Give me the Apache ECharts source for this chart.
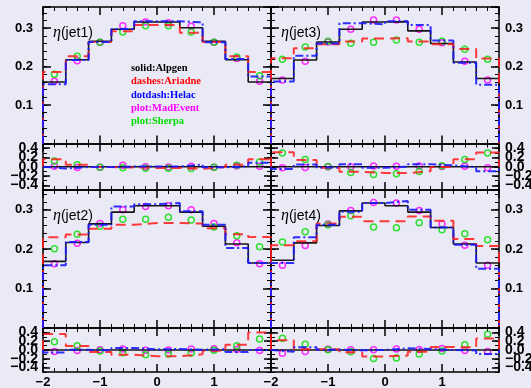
<!DOCTYPE html>
<html>
<head>
<meta charset="utf-8">
<script src="https://cdn.jsdelivr.net/npm/echarts@6/dist/echarts.min.js"></script>
<style>
  html, body { margin: 0; padding: 0; background: #eaeaf6; }
  #chart { width: 531px; height: 388px; }
</style>
</head>
<body>
<div id="chart"></div>
<script>
// Pseudorapidity bin edges shared by all four jets
const etaEdges = [-2, -1.6, -1.2, -0.8, -0.4, 0, 0.4, 0.8, 1.2, 1.6, 2];

// eta(jet1)
const jet1Alpgen   = [0.160, 0.218, 0.266, 0.297, 0.316, 0.316, 0.301, 0.266, 0.218, 0.160];
const jet1Ariadne  = [0.186, 0.227, 0.264, 0.292, 0.308, 0.308, 0.288, 0.264, 0.227, 0.186];
const jet1Helac    = [0.154, 0.217, 0.264, 0.298, 0.318, 0.318, 0.315, 0.263, 0.220, 0.174];
const jet1MadEvent = [0.162, 0.215, 0.263, 0.306, 0.316, 0.314, 0.305, 0.263, 0.221, 0.162];
const jet1Sherpa   = [0.180, 0.227, 0.263, 0.290, 0.306, 0.306, 0.290, 0.263, 0.225, 0.176];

// eta(jet2)
const jet2Alpgen   = [0.169, 0.217, 0.264, 0.294, 0.310, 0.310, 0.294, 0.258, 0.213, 0.165];
const jet2Ariadne  = [0.230, 0.237, 0.252, 0.262, 0.266, 0.266, 0.265, 0.253, 0.238, 0.231];
const jet2Helac    = [0.159, 0.218, 0.262, 0.308, 0.314, 0.317, 0.296, 0.262, 0.203, 0.165];
const jet2MadEvent = [0.163, 0.215, 0.265, 0.300, 0.308, 0.310, 0.300, 0.265, 0.216, 0.163];
const jet2Sherpa   = [0.201, 0.238, 0.258, 0.276, 0.276, 0.281, 0.274, 0.256, 0.234, 0.206];

// eta(jet3)
const jet3Alpgen   = [0.169, 0.217, 0.264, 0.297, 0.316, 0.317, 0.293, 0.260, 0.212, 0.169];
const jet3Ariadne  = [0.222, 0.248, 0.258, 0.265, 0.273, 0.274, 0.265, 0.258, 0.246, 0.221];
const jet3Helac    = [0.161, 0.228, 0.260, 0.313, 0.310, 0.318, 0.308, 0.268, 0.210, 0.153];
const jet3MadEvent = [0.165, 0.214, 0.264, 0.297, 0.321, 0.321, 0.297, 0.262, 0.214, 0.165];
const jet3Sherpa   = [0.219, 0.251, 0.266, 0.261, 0.263, 0.269, 0.263, 0.266, 0.245, 0.219];

// eta(jet4)
const jet4Alpgen   = [0.172, 0.216, 0.260, 0.297, 0.317, 0.310, 0.294, 0.255, 0.213, 0.165];
const jet4Ariadne  = [0.210, 0.220, 0.265, 0.282, 0.271, 0.271, 0.283, 0.272, 0.226, 0.208];
const jet4Helac    = [0.165, 0.230, 0.262, 0.295, 0.317, 0.322, 0.300, 0.255, 0.211, 0.150];
const jet4MadEvent = [0.159, 0.209, 0.264, 0.298, 0.318, 0.317, 0.298, 0.264, 0.210, 0.159];
const jet4Sherpa   = [0.218, 0.244, 0.262, 0.285, 0.256, 0.254, 0.267, 0.249, 0.239, 0.224];

// Ratio-panel tick values (labels are split over two axes so none get dropped)
const ratioTicks = [-0.4, -0.2, 0, 0.2, 0.4];
const ratioLabelsA = [-0.4, 0, 0.4];
const ratioLabelsB = [-0.2, 0.2];

const legendLines = [
  { text: 'solid:Alpgen',   color: '#000000' },
  { text: 'dashes:Ariadne', color: '#ff0000' },
  { text: 'dotdash:Helac',  color: '#0000ff' },
  { text: 'plot:MadEvent',  color: '#ff00ff' },
  { text: 'plot:Sherpa',    color: '#00dd00' }
];

const panels = [
  { name: 'jet1', col: 0, row: 0, alp: jet1Alpgen, ari: jet1Ariadne, hel: jet1Helac, mad: jet1MadEvent, she: jet1Sherpa },
  { name: 'jet3', col: 1, row: 0, alp: jet3Alpgen, ari: jet3Ariadne, hel: jet3Helac, mad: jet3MadEvent, she: jet3Sherpa },
  { name: 'jet2', col: 0, row: 1, alp: jet2Alpgen, ari: jet2Ariadne, hel: jet2Helac, mad: jet2MadEvent, she: jet2Sherpa },
  { name: 'jet4', col: 1, row: 1, alp: jet4Alpgen, ari: jet4Ariadne, hel: jet4Helac, mad: jet4MadEvent, she: jet4Sherpa }
];

// Layout
const COL_LEFT = [43, 271];
const PANEL_W = 228;
const ROWS = [
  { mainTop: 7,   mainH: 136.5, ratTop: 143.5, ratH: 46.5, yMax: 0.355 },
  { mainTop: 190, mainH: 138,   ratTop: 328,   ratH: 44,   yMax: 0.35 }
];

const INK = '#000';
const tickFont = { color: '#000', fontFamily: 'Liberation Sans, Arial, sans-serif', fontWeight: 'bold', fontSize: 13 };
const ratioFont = { color: '#000', fontFamily: 'Liberation Sans, Arial, sans-serif', fontWeight: 'bold', fontSize: 14 };

function signed(v, digits) {
  const s = Math.abs(v).toFixed(digits);
  return (v < -1e-9 ? '\u2212' : '') + s;
}

const grids = [], xAxes = [], yAxes = [], series = [], graphics = [];

function addGrid(left, top, height) {
  grids.push({ left: left, top: top, width: PANEL_W, height: height, containLabel: false, outerBoundsMode: 'none' });
  return grids.length - 1;
}

function addXAxes(gi, withLabels) {
  const first = xAxes.length;
  ['bottom', 'top'].forEach(function (pos) {
    xAxes.push({
      type: 'value', gridIndex: gi, position: pos, min: -2, max: 2, interval: 1,
      axisLine: { show: true, onZero: false, lineStyle: { color: INK, width: 1.5 } },
      axisTick: { show: true, inside: true, length: 8, lineStyle: { color: INK, width: 1.5 } },
      minorTick: { show: true, splitNumber: 5, length: 4, lineStyle: { color: INK, width: 1 } },
      axisLabel: Object.assign({
        show: withLabels && pos === 'bottom', margin: 4,
        showMinLabel: true, hideOverlap: false,
        formatter: function (v) { return v >= 2 ? '' : signed(v, 0); }
      }, tickFont),
      splitLine: { show: false }, minorSplitLine: { show: false }
    });
  });
  return first;
}

// Main panel: major ticks every 0.1 with labels, minor ticks every 0.02
function addMainY(gi, pos, yMax, withLabels) {
  const major = yAxes.length;
  yAxes.push({
    type: 'value', gridIndex: gi, position: pos, min: 0, max: yMax, interval: 0.1,
    axisLine: { show: true, onZero: false, lineStyle: { color: INK, width: 1.5 } },
    axisTick: { show: true, inside: true, length: 8, lineStyle: { color: INK, width: 1.5 } },
    axisLabel: Object.assign({
      show: withLabels, margin: pos === 'left' ? 10 : 6, hideOverlap: false,
      formatter: function (v) { return (v > 0.05 && v < 0.34) ? v.toFixed(1) : ''; }
    }, tickFont),
    splitLine: { show: false }
  });
  yAxes.push({
    type: 'value', gridIndex: gi, position: pos, min: 0, max: yMax, interval: 0.02,
    axisLine: { show: false, onZero: false },
    axisTick: { show: true, inside: true, length: 4, lineStyle: { color: INK, width: 1 } },
    axisLabel: { show: false }, splitLine: { show: false }
  });
  return major;
}

// Ratio panel: major ticks at 0.2 steps, minor ticks every 0.1
function addRatioY(gi, pos, withLabels) {
  const major = yAxes.length;
  const margin = pos === 'left' ? 5 : 6;
  const fmt = function (v) { return signed(v, 1); };
  yAxes.push({
    type: 'value', gridIndex: gi, position: pos, min: -0.5, max: 0.5,
    axisLine: { show: true, onZero: false, lineStyle: { color: INK, width: 1.5 } },
    axisTick: { show: true, inside: true, length: 7, customValues: ratioTicks, lineStyle: { color: INK, width: 1.5 } },
    axisLabel: Object.assign({
      show: withLabels, margin: margin, customValues: ratioLabelsA,
      showMinLabel: true, showMaxLabel: true, hideOverlap: false, formatter: fmt
    }, ratioFont),
    splitLine: { show: false }
  });
  yAxes.push({
    type: 'value', gridIndex: gi, position: pos, min: -0.5, max: 0.5, interval: 0.1,
    axisLine: { show: false, onZero: false },
    axisTick: { show: true, inside: true, length: 4, lineStyle: { color: INK, width: 1 } },
    axisLabel: { show: false }, splitLine: { show: false }
  });
  if (withLabels) {
    yAxes.push({
      type: 'value', gridIndex: gi, position: pos, min: -0.5, max: 0.5,
      axisLine: { show: false, onZero: false },
      axisTick: { show: false },
      axisLabel: Object.assign({
        show: true, margin: margin, customValues: ratioLabelsB,
        showMinLabel: true, showMaxLabel: true, hideOverlap: false, formatter: fmt
      }, ratioFont),
      splitLine: { show: false }
    });
  }
  return major;
}

// Histogram outline as a stepped path rising from zero at the first edge
function stepPath(vals) {
  const last = etaEdges.length - 1;
  const pts = [[etaEdges[0], 0]];
  vals.forEach(function (v, i) { pts.push([etaEdges[i], v]); });
  pts.push([etaEdges[last], vals[vals.length - 1]]);
  pts.push([etaEdges[last], 0]);
  return pts;
}
function centers() {
  return etaEdges.slice(0, -1).map(function (e, i) { return (e + etaEdges[i + 1]) / 2; });
}
function ratioTo(vals, ref) {
  return vals.map(function (v, i) { return v / ref[i] - 1; });
}

const STYLES = {
  alp: { color: '#000000', width: 1.6, type: 'solid', opacity: 0.9 },
  ari: { color: '#ff1a1a', width: 2, type: [10, 6], opacity: 0.85 },
  hel: { color: '#1a1aff', width: 2, type: [8, 3, 2, 3], opacity: 0.9 }
};

function addLine(xi, yi, data, key) {
  const s = STYLES[key];
  series.push({
    type: 'line', xAxisIndex: xi, yAxisIndex: yi, data: data, step: 'end',
    showSymbol: false, symbol: 'none', silent: true, animation: false,
    lineStyle: { color: s.color, width: s.width, type: s.type, opacity: s.opacity }
  });
}
function addMarkers(xi, yi, vals, color) {
  const cx = centers();
  series.push({
    type: 'scatter', xAxisIndex: xi, yAxisIndex: yi, animation: false, silent: true,
    data: vals.map(function (v, i) { return [cx[i], v]; }),
    symbol: 'circle', symbolSize: 6,
    itemStyle: { color: 'rgba(0,0,0,0)', borderColor: color, borderWidth: 1.5 }
  });
}

panels.forEach(function (p) {
  const row = ROWS[p.row];
  const left = COL_LEFT[p.col];
  const isLeft = p.col === 0;

  // upper panel: distributions
  const gMain = addGrid(left, row.mainTop, row.mainH);
  const xm = addXAxes(gMain, false);
  const ym = addMainY(gMain, 'left', row.yMax, isLeft);
  addMainY(gMain, 'right', row.yMax, !isLeft);
  addLine(xm, ym, stepPath(p.alp), 'alp');
  addLine(xm, ym, stepPath(p.ari), 'ari');
  addLine(xm, ym, stepPath(p.hel), 'hel');
  addMarkers(xm, ym, p.mad, '#ff00ff');
  addMarkers(xm, ym, p.she, '#00dd00');

  // lower panel: relative difference to Alpgen
  const gRat = addGrid(left, row.ratTop, row.ratH);
  const xr = addXAxes(gRat, p.row === 1);
  const yr = addRatioY(gRat, 'left', isLeft);
  addRatioY(gRat, 'right', !isLeft);
  addLine(xr, yr, stepPath(ratioTo(p.alp, p.alp)), 'alp');
  addLine(xr, yr, stepPath(ratioTo(p.ari, p.alp)), 'ari');
  addLine(xr, yr, stepPath(ratioTo(p.hel, p.alp)), 'hel');
  addMarkers(xr, yr, ratioTo(p.mad, p.alp), '#ff00ff');
  addMarkers(xr, yr, ratioTo(p.she, p.alp), '#00dd00');

  // panel title, e.g. eta(jet1)
  graphics.push({
    type: 'text', x: left + 10, y: row.mainTop + 26, silent: true,
    style: {
      text: '{g|\u03b7}{s|(' + p.name + ')}',
      verticalAlign: 'middle', align: 'left',
      rich: {
        g: { fontFamily: 'Liberation Serif, serif', fontStyle: 'italic', fontSize: 16, fill: '#000' },
        s: { fontFamily: 'Liberation Sans, Arial, sans-serif', fontSize: 14, fill: '#000' }
      }
    }
  });
});

// legend block inside the jet1 panel
legendLines.forEach(function (l, i) {
  graphics.push({
    type: 'text', x: 131, y: 68 + i * 13.4, silent: true,
    style: {
      text: l.text, fill: l.color, verticalAlign: 'middle', align: 'left',
      fontFamily: 'Liberation Serif, serif', fontWeight: 'bold', fontSize: 10.5
    }
  });
});

const chart = echarts.init(document.getElementById('chart'), null, { renderer: 'canvas' });
chart.setOption({
  backgroundColor: '#eaeaf6',
  animation: false,
  grid: grids,
  xAxis: xAxes,
  yAxis: yAxes,
  series: series,
  graphic: graphics
});
</script>
</body>
</html>
